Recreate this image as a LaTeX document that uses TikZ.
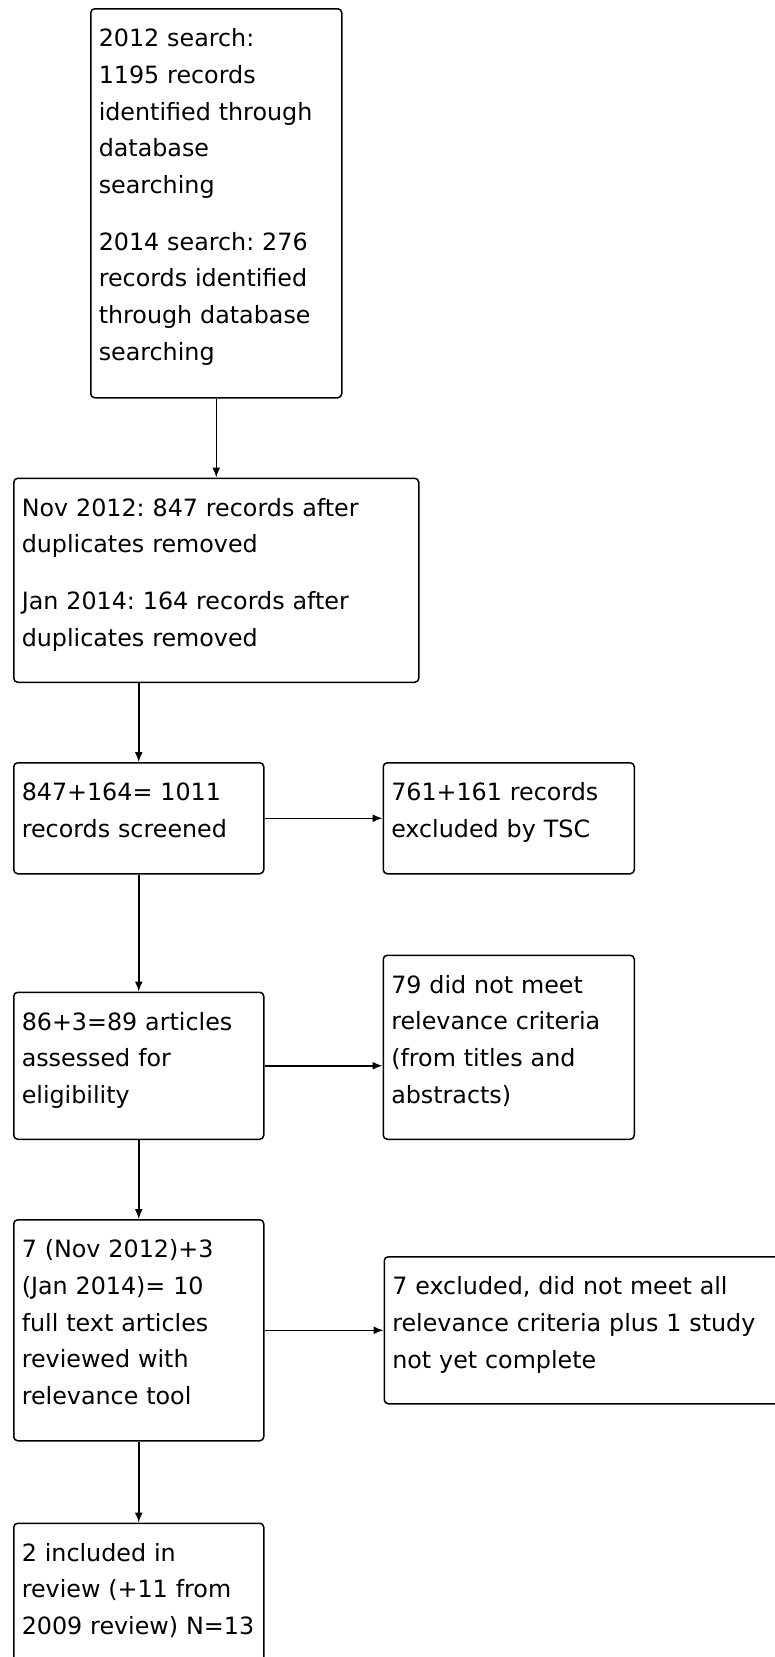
\documentclass[tikz,border=0pt]{standalone}
\usepackage{fontspec}
\setmainfont{DejaVu Sans}
\usepackage{tikz}
\usetikzlibrary{arrows.meta, positioning}
\frenchspacing

\begin{document}
\begin{tikzpicture}[
    stage/.style = {rectangle, draw, rounded corners=4pt, align=left, inner xsep=8pt, inner ysep=9pt, text height=29pt, font = \fontsize{23.8pt}{36.7pt}\selectfont},
    line width=1.5pt,
    >={Latex[length=10pt, width=8pt]}]

    \useasboundingbox (0,0) rectangle (775pt,-1657pt);

    \node[stage, anchor=north west, text width=235pt, text depth=342pt] (search) at (90pt,-8pt) {2012 search:\\ 1195 records\\ identified through\\ database\\ searching\\[20pt] 2014 search: 276\\ records identified\\ through database\\ searching};
    \node[stage, below=79pt of search, text width=389pt, text depth=157pt] (dedup) {Nov 2012: 847 records after\\ duplicates removed\\[20pt] Jan 2014: 164 records after\\ duplicates removed};
    \node[stage, below right=79pt and 0pt of dedup.south west, text width=234pt, text depth=64pt] (screen) {847+164= 1011\\ records screened};
    \node[stage, right=118pt of screen, text width=235pt, text depth=64pt] (excltsc) {761+161 records\\ excluded by TSC};
    \node[stage, below=117pt of screen, text width=234pt, text depth=100pt] (elig) {86+3=89 articles\\ assessed for\\ eligibility};
    \node[stage, above right=0pt and 118pt of elig.south east, text width=235pt, text depth=137pt] (relev) {79 did not meet\\ relevance criteria\\ (from titles and\\ abstracts)};
    \node[stage, below=79pt of elig, text width=234pt, text depth=174pt] (fulltext) {7 (Nov 2012)+3\\ (Jan 2014)= 10\\ full text articles\\ reviewed with\\ relevance tool};
    \node[stage, right=119pt of fulltext, text width=404pt, text depth=100pt] (excl) {7 excluded, did not meet all\\ relevance criteria plus 1 study\\ not yet complete};
    \node[stage, below=81pt of fulltext, text width=234pt, text depth=200pt] (incl) {2 included in\\ review (+11 from\\ 2009 review) N=13};

    \draw[->] (search) -- (dedup);
    \draw[->] (dedup.south -| screen) -- (screen);
    \draw[->] (screen) -- (excltsc);
    \draw[->] (screen) -- (elig);
    \draw[->] (elig.east) -- (elig.east -| relev.west);
    \draw[->] (elig) -- (fulltext);
    \draw[->] (fulltext) -- (excl);
    \draw[->] (fulltext) -- (incl);
\end{tikzpicture}
\end{document}
